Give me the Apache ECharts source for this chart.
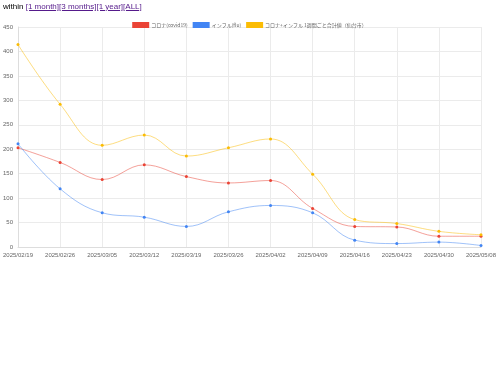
<!DOCTYPE html>
<html><head><meta charset="utf-8">
<script src="https://cdn.jsdelivr.net/npm/echarts@6/dist/echarts.min.js"></script>
<style>
html,body{margin:0;padding:0;background:#fff;width:499px;height:380px;overflow:hidden;}
#top{position:absolute;left:3px;top:2px;font-family:"Liberation Sans",Arial,sans-serif;font-size:8px;color:#000;z-index:2;}
#top a{color:#551A8B;text-decoration:underline;}
#chart{position:absolute;left:0;top:0;width:499px;height:380px;}
</style></head>
<body>
<div id="top">within <a href="#">[1 month]</a><a href="#">[3 months]</a><a href="#">[1 year]</a><a href="#">[ALL]</a></div>
<div id="chart"></div>
<script>
const categories = ["2025/02/19","2025/02/26","2025/03/05","2025/03/12","2025/03/19","2025/03/26","2025/04/02","2025/04/09","2025/04/16","2025/04/23","2025/04/30","2025/05/08"];
const covid = [203,173,138,168,144,131,136,79,42,41,22,22];
const flu = [211,119,70,61,42,72,85,70,14,7,10,3];
const total = [414,292,208,229,186,203,221,149,56,48,32,25];
const seriesNames = ["コロナ(covid19)","インフル(flu)","コロナ+インフル 1週間ごと合計値（仙台市）"];
const colors = ["#EA4335","#4285F4","#FBBC04"];

const chart = echarts.init(document.getElementById('chart'));
const font = '"Noto Sans CJK JP","Noto Sans",sans-serif';
function mk(name, data, c){
  return {name:name,type:'line',data:data,smooth:0.4,symbol:'circle',symbolSize:3,
    itemStyle:{color:c},lineStyle:{color:c,width:1,opacity:0.5},emphasis:{disabled:true}};
}
chart.setOption({
  animation:false,
  color:colors,
  textStyle:{fontFamily:font},
  legend:{top:17,left:'center',icon:'rect',itemWidth:17,itemHeight:6,itemGap:5,
    textStyle:{fontSize:5,color:'#666',fontFamily:font,padding:[0,0,0,-3]},data:seriesNames},
  grid:{left:18,right:18,top:27,bottom:133,containLabel:false},
  xAxis:{type:'category',data:categories,boundaryGap:false,
    axisLine:{lineStyle:{color:'#ddd'}},axisTick:{show:false},
    axisLabel:{fontSize:6,color:'#666',margin:5,interval:0,fontFamily:'"Liberation Sans",Arial,sans-serif'},
    splitLine:{show:true,lineStyle:{color:'#ebebeb',width:1}}},
  yAxis:{type:'value',min:0,max:450,interval:50,
    axisLine:{show:true,lineStyle:{color:'#ddd'}},axisTick:{show:false},
    axisLabel:{fontSize:6,color:'#666',margin:5,fontFamily:'"Liberation Sans",Arial,sans-serif'},
    splitLine:{show:true,lineStyle:{color:'#ebebeb',width:1}}},
  series:[mk(seriesNames[0],covid,colors[0]),mk(seriesNames[1],flu,colors[1]),mk(seriesNames[2],total,colors[2])]
});
</script>
</body></html>
